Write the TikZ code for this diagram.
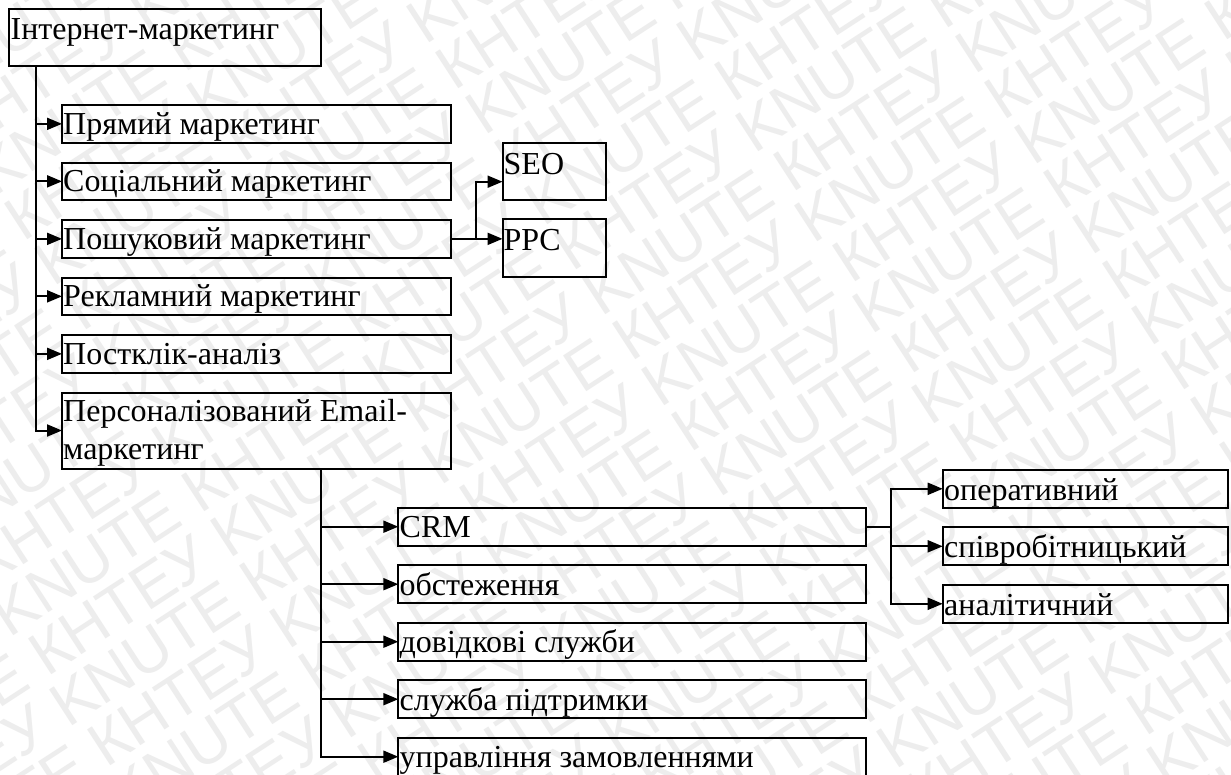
\documentclass[tikz,border=0pt]{standalone}
\usepackage{fontspec}
\setmainfont{Liberation Serif}
\newfontfamily\wmfont{Liberation Sans}
\usetikzlibrary{arrows.meta}

\tikzset{
  box/.style={draw, line width=2pt, rectangle, inner sep=0pt, outer sep=0pt, anchor=north west},
  lbl/.style={inner sep=0pt, anchor=base west, font=\fontsize{32}{38.7}\selectfont},
  link/.style={line width=2pt},
  arr/.style={line width=2pt, -{Triangle[length=15pt,width=12pt]}},
  wm/.style={inner sep=0pt, anchor=base west, text=black!7,
             font=\wmfont\fontsize{62}{62}\selectfont, rotate=33}
}

\begin{document}
\begin{tikzpicture}[x=1pt,y=-1pt]
\useasboundingbox (0,0) rectangle (1231,774);
\clip (0,0) rectangle (1231,774);
\fill[white] (0,0) rectangle (1231,774);

% background stamp, repeated in diagonal rows
\foreach \i in {-14,...,26} {
  \pgfmathsetmacro{\wx}{\i*29.4-839}
  \pgfmathsetmacro{\wy}{\i*45.3+545}
  \ifodd\i
    \node[wm] (wm\i) at (\wx,\wy) {KNUTE КНТЕУ KNUTE КНТЕУ KNUTE КНТЕУ KNUTE КНТЕУ KNUTE КНТЕУ};
  \else
    \node[wm] (wm\i) at (\wx,\wy) {КНТЕУ KNUTE КНТЕУ KNUTE КНТЕУ KNUTE КНТЕУ KNUTE КНТЕУ KNUTE};
  \fi
}

% root
\node[box, minimum width=311.5pt, minimum height=57pt] (root) at (9,8.5) {};
\node[lbl] (rootT) at (10.5,39.5) {Інтернет-маркетинг};

% first level
\node[box, minimum width=388.5pt, minimum height=37.7pt] (p1) at (62,105) {};
\node[box, minimum width=388.5pt, minimum height=37.7pt] (p2) at (62,162.5) {};
\node[box, minimum width=388.5pt, minimum height=37.7pt] (p3) at (62,220) {};
\node[box, minimum width=388.5pt, minimum height=37.7pt] (p4) at (62,277.5) {};
\node[box, minimum width=388.5pt, minimum height=37.7pt] (p5) at (62,335) {};
\node[box, minimum width=388.5pt, minimum height=76pt] (p6) at (62,392.5) {};
\node[lbl] (p1T) at (63,134) {Прямий маркетинг};
\node[lbl] (p2T) at (63,191.5) {Соціальний маркетинг};
\node[lbl] (p3T) at (63,249) {Пошуковий маркетинг};
\node[lbl] (p4T) at (63,306.5) {Рекламний маркетинг};
\node[lbl] (p5T) at (63,364) {Постклік-аналіз};
\node[lbl] (p6T) at (63,421) {Персоналізований Email-};
\node[lbl] (p6U) at (63,459.7) {маркетинг};

% search branches
\node[box, minimum width=103.5pt, minimum height=57.3pt] (seo) at (502.5,142.7) {};
\node[box, minimum width=103.5pt, minimum height=57.3pt] (ppc) at (502.5,219.4) {};
\node[lbl] (seoT) at (503.5,174) {SEO};
\node[lbl] (ppcT) at (503.5,250.7) {PPC};

% second level
\node[box, minimum width=467.4pt, minimum height=38pt] (q1) at (398.3,507.7) {};
\node[box, minimum width=467.4pt, minimum height=38pt] (q2) at (398.3,565.2) {};
\node[box, minimum width=467.4pt, minimum height=38pt] (q3) at (398.3,622.7) {};
\node[box, minimum width=467.4pt, minimum height=38pt] (q4) at (398.3,680.2) {};
\node[box, minimum width=467.4pt, minimum height=38pt] (q5) at (398.3,737.7) {};
\node[lbl] (q1T) at (399.5,537.5) {CRM};
\node[lbl] (q2T) at (399.5,595) {обстеження};
\node[lbl] (q3T) at (399.5,652.5) {довідкові служби};
\node[lbl] (q4T) at (399.5,710) {служба підтримки};
\node[lbl] (q5T) at (399.5,767.5) {управління замовленнями};

% CRM kinds
\node[box, minimum width=285.6pt, minimum height=38pt] (r1) at (942.7,469.8) {};
\node[box, minimum width=285.6pt, minimum height=38pt] (r2) at (942.7,527.3) {};
\node[box, minimum width=285.6pt, minimum height=38pt] (r3) at (942.7,584.8) {};
\node[lbl] (r1T) at (944,500) {оперативний};
\node[lbl] (r2T) at (944,557.5) {співробітницький};
\node[lbl] (r3T) at (944,615) {аналітичний};

% trunk starts and the arrow end at the SEO box
\coordinate (t0) at (35.7,65.5);
\coordinate (t1) at (320.7,468.5);
\coordinate (seoIn) at (502.5,181.7);

% connectors: first level
\draw[arr] (t0) |- (p6.west);
\foreach \k in {1,...,5} \draw[arr] (t0 |- p\k.west) -- (p\k.west);

% connectors: search branches
\draw[link] (p3.east) -- ++(25.5,0) coordinate (f1);
\draw[arr] (f1) -- (ppc.west |- f1);
\draw[arr] (f1) |- (seoIn);

% connectors: second level
\draw[arr] (t1) |- (q5.west);
\foreach \k in {1,...,4} \draw[arr] (t1 |- q\k.west) -- (q\k.west);

% connectors: CRM kinds
\draw[link] (q1.east) -- ++(25,0) coordinate (f2);
\draw[arr] (f2) |- (r1.west);
\draw[arr] (f2) |- (r3.west);
\draw[arr] (f2 |- r2.west) -- (r2.west);
\end{tikzpicture}
\end{document}
